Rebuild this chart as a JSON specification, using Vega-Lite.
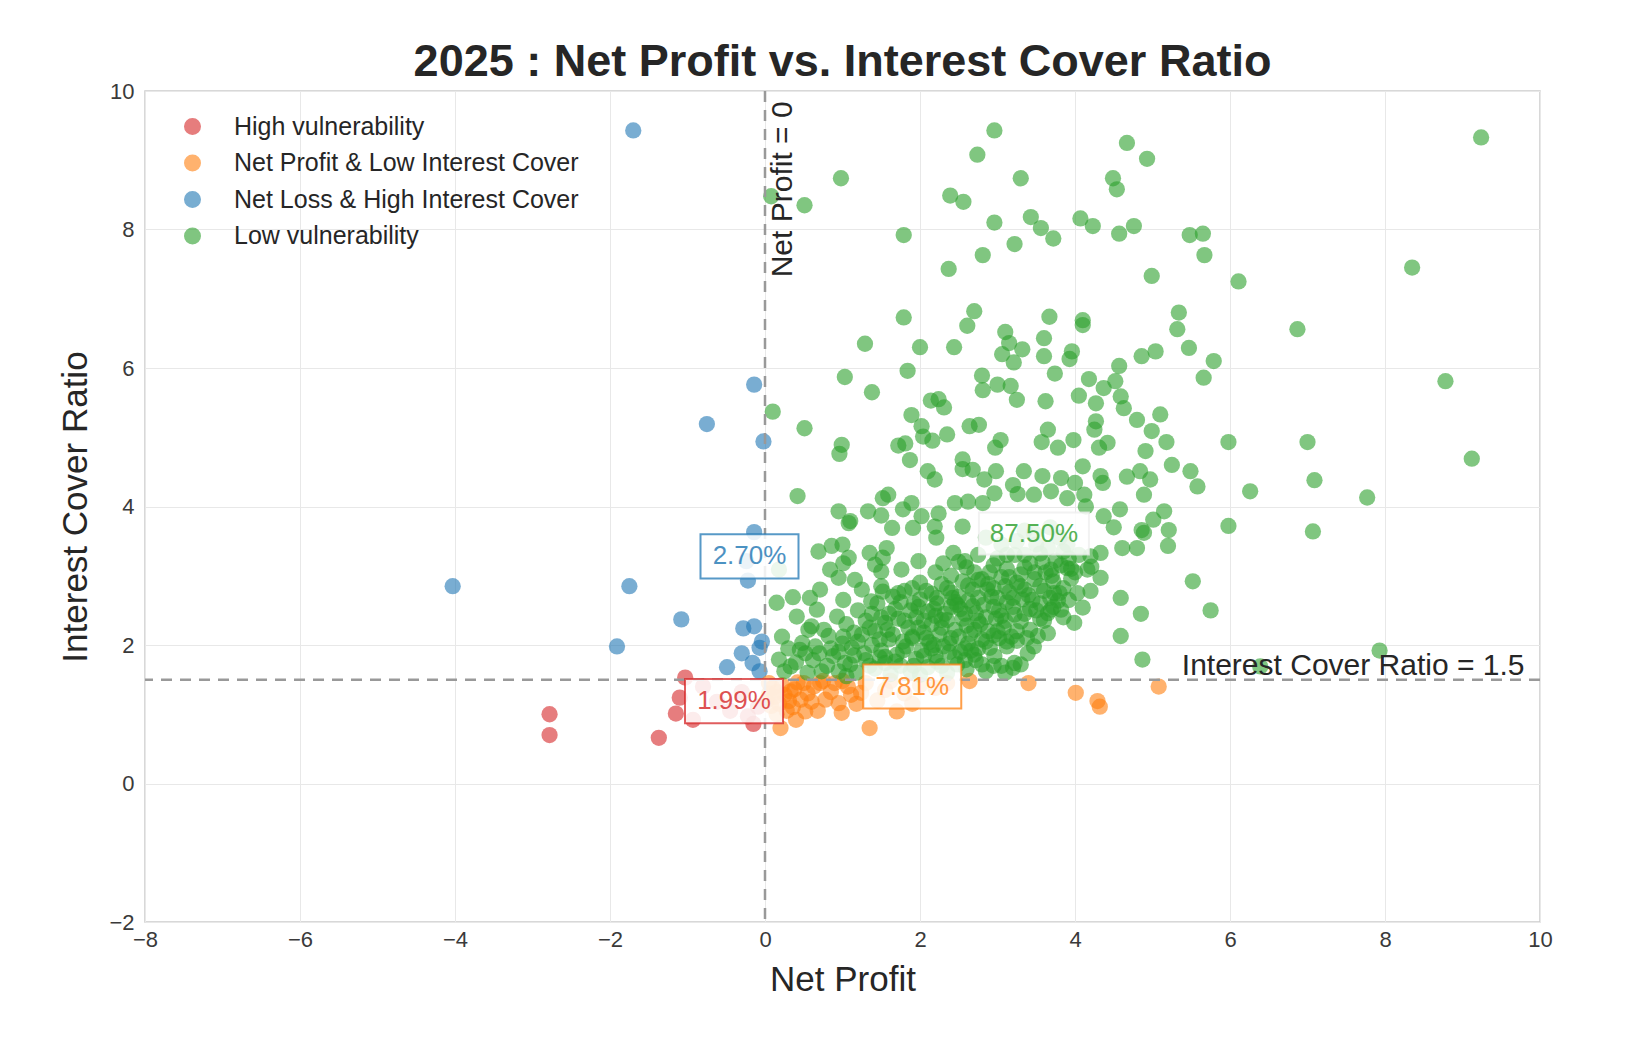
{
  "$schema": "https://vega.github.io/schema/vega-lite/v6.json",
  "width": 1395,
  "height": 831,
  "autosize": {"type": "none"},
  "padding": {"left": 145, "top": 91, "right": 107, "bottom": 136},
  "background": "white",
  "config": {
    "font": "Liberation Sans",
    "view": {"stroke": "#cccccc", "strokeWidth": 1.5},
    "axis": {
      "grid": true,
      "gridColor": "#e8e8e8",
      "gridWidth": 1,
      "domain": false,
      "ticks": false,
      "format": "d",
      "labelFlush": false,
      "labelFontSize": 22,
      "labelColor": "#3a3a3a",
      "titleFontSize": 35,
      "titleFontWeight": "normal",
      "titleColor": "#262626"
    }
  },
  "title": {
    "text": "2025 : Net Profit vs. Interest Cover Ratio",
    "fontSize": 45,
    "fontWeight": "bold",
    "color": "#262626",
    "anchor": "middle",
    "offset": -5
  },
  "datasets": {
    "points": [
      {"cat": "H", "x": -1.03, "y": 1.53}, {"cat": "H", "x": -1.1, "y": 1.24}, {"cat": "H", "x": -1.15, "y": 1.01},
      {"cat": "H", "x": -0.93, "y": 0.92}, {"cat": "H", "x": -2.78, "y": 1.0}, {"cat": "H", "x": -2.78, "y": 0.7},
      {"cat": "H", "x": -1.37, "y": 0.66}, {"cat": "H", "x": -0.22, "y": 0.97}, {"cat": "H", "x": -0.09, "y": 1.11},
      {"cat": "H", "x": -0.45, "y": 1.05}, {"cat": "H", "x": -0.3, "y": 1.32}, {"cat": "H", "x": -0.62, "y": 1.18},
      {"cat": "H", "x": -0.15, "y": 0.86}, {"cat": "H", "x": -0.8, "y": 1.4},

      {"cat": "B", "x": -4.03, "y": 2.85}, {"cat": "B", "x": -1.75, "y": 2.85}, {"cat": "B", "x": -1.08, "y": 2.37},
      {"cat": "B", "x": -1.91, "y": 1.98}, {"cat": "B", "x": -1.7, "y": 9.43}, {"cat": "B", "x": -0.14, "y": 5.76},
      {"cat": "B", "x": -0.75, "y": 5.19}, {"cat": "B", "x": -0.02, "y": 4.94}, {"cat": "B", "x": -0.14, "y": 3.63},
      {"cat": "B", "x": -0.22, "y": 2.93}, {"cat": "B", "x": -0.28, "y": 2.24}, {"cat": "B", "x": -0.14, "y": 2.27},
      {"cat": "B", "x": -0.07, "y": 1.96}, {"cat": "B", "x": -0.3, "y": 1.88}, {"cat": "B", "x": -0.16, "y": 1.74},
      {"cat": "B", "x": -0.49, "y": 1.68}, {"cat": "B", "x": -0.07, "y": 1.62}, {"cat": "B", "x": -0.24, "y": 3.21},
      {"cat": "B", "x": -0.04, "y": 2.05},

      {"cat": "O", "x": 4.01, "y": 1.31}, {"cat": "O", "x": 4.29, "y": 1.19}, {"cat": "O", "x": 4.32, "y": 1.11},
      {"cat": "O", "x": 5.08, "y": 1.4}, {"cat": "O", "x": 2.64, "y": 1.48}, {"cat": "O", "x": 1.35, "y": 0.8},
      {"cat": "O", "x": 1.7, "y": 1.04}, {"cat": "O", "x": 0.99, "y": 1.02}, {"cat": "O", "x": 0.52, "y": 1.04},
      {"cat": "O", "x": 0.78, "y": 1.21}, {"cat": "O", "x": 0.2, "y": 0.8}, {"cat": "O", "x": 0.33, "y": 1.33},
      {"cat": "O", "x": 0.31, "y": 1.19}, {"cat": "O", "x": 0.63, "y": 1.4}, {"cat": "O", "x": 0.71, "y": 1.45},
      {"cat": "O", "x": 1.07, "y": 1.4}, {"cat": "O", "x": 1.11, "y": 1.28}, {"cat": "O", "x": 0.95, "y": 1.16},
      {"cat": "O", "x": 1.24, "y": 1.31}, {"cat": "O", "x": 0.46, "y": 1.21}, {"cat": "O", "x": 0.05, "y": 1.45},
      {"cat": "O", "x": 0.1, "y": 1.38}, {"cat": "O", "x": 0.12, "y": 1.25}, {"cat": "O", "x": 0.15, "y": 1.32},
      {"cat": "O", "x": 0.18, "y": 1.15}, {"cat": "O", "x": 0.22, "y": 1.42}, {"cat": "O", "x": 0.25, "y": 1.28},
      {"cat": "O", "x": 0.08, "y": 1.12}, {"cat": "O", "x": 0.28, "y": 1.05}, {"cat": "O", "x": 0.38, "y": 1.36},
      {"cat": "O", "x": 0.42, "y": 1.46}, {"cat": "O", "x": 0.36, "y": 1.1}, {"cat": "O", "x": 0.55, "y": 1.3},
      {"cat": "O", "x": 0.6, "y": 1.18}, {"cat": "O", "x": 0.68, "y": 1.05}, {"cat": "O", "x": 0.85, "y": 1.32},
      {"cat": "O", "x": 0.9, "y": 1.45}, {"cat": "O", "x": 1.18, "y": 1.15}, {"cat": "O", "x": 1.3, "y": 1.45},
      {"cat": "O", "x": 1.45, "y": 1.2}, {"cat": "O", "x": 1.55, "y": 1.35}, {"cat": "O", "x": 1.62, "y": 1.48},
      {"cat": "O", "x": 1.8, "y": 1.3}, {"cat": "O", "x": 2.0, "y": 1.42}, {"cat": "O", "x": 2.2, "y": 1.38},
      {"cat": "O", "x": 2.35, "y": 1.45}, {"cat": "O", "x": 1.9, "y": 1.15}, {"cat": "O", "x": 0.15, "y": 1.0},
      {"cat": "O", "x": 0.4, "y": 0.92}, {"cat": "O", "x": 0.05, "y": 1.3}, {"cat": "O", "x": 0.02, "y": 1.2},
      {"cat": "O", "x": 0.5, "y": 1.45}, {"cat": "O", "x": 0.75, "y": 1.48}, {"cat": "O", "x": 1.0, "y": 1.48},
      {"cat": "O", "x": 3.4, "y": 1.45},

      {"cat": "L", "x": 2.96, "y": 9.43}, {"cat": "L", "x": 0.98, "y": 8.74}, {"cat": "L", "x": 0.08, "y": 8.48},
      {"cat": "L", "x": 0.51, "y": 8.35}, {"cat": "L", "x": 2.74, "y": 9.08}, {"cat": "L", "x": 3.3, "y": 8.74},
      {"cat": "L", "x": 2.39, "y": 8.49}, {"cat": "L", "x": 2.56, "y": 8.4}, {"cat": "L", "x": 4.67, "y": 9.25},
      {"cat": "L", "x": 4.93, "y": 9.02}, {"cat": "L", "x": 4.49, "y": 8.74}, {"cat": "L", "x": 4.54, "y": 8.58},
      {"cat": "L", "x": 2.96, "y": 8.1}, {"cat": "L", "x": 3.43, "y": 8.18}, {"cat": "L", "x": 3.56, "y": 8.02},
      {"cat": "L", "x": 3.72, "y": 7.87}, {"cat": "L", "x": 4.07, "y": 8.16}, {"cat": "L", "x": 4.23, "y": 8.05},
      {"cat": "L", "x": 4.57, "y": 7.94}, {"cat": "L", "x": 4.76, "y": 8.05}, {"cat": "L", "x": 5.48, "y": 7.92},
      {"cat": "L", "x": 5.65, "y": 7.94}, {"cat": "L", "x": 5.67, "y": 7.63}, {"cat": "L", "x": 1.79, "y": 7.92},
      {"cat": "L", "x": 3.22, "y": 7.79}, {"cat": "L", "x": 2.81, "y": 7.63}, {"cat": "L", "x": 2.37, "y": 7.43},
      {"cat": "L", "x": 4.99, "y": 7.33}, {"cat": "L", "x": 6.11, "y": 7.25}, {"cat": "L", "x": 8.35, "y": 7.45},
      {"cat": "L", "x": 9.24, "y": 9.33}, {"cat": "L", "x": 1.79, "y": 6.73}, {"cat": "L", "x": 2.7, "y": 6.82},
      {"cat": "L", "x": 2.61, "y": 6.61}, {"cat": "L", "x": 3.67, "y": 6.74}, {"cat": "L", "x": 4.1, "y": 6.69},
      {"cat": "L", "x": 4.1, "y": 6.62}, {"cat": "L", "x": 5.34, "y": 6.8}, {"cat": "L", "x": 5.32, "y": 6.56},
      {"cat": "L", "x": 6.87, "y": 6.56}, {"cat": "L", "x": 1.29, "y": 6.35}, {"cat": "L", "x": 2.0, "y": 6.3},
      {"cat": "L", "x": 2.44, "y": 6.3}, {"cat": "L", "x": 3.1, "y": 6.52}, {"cat": "L", "x": 3.15, "y": 6.36},
      {"cat": "L", "x": 3.32, "y": 6.27}, {"cat": "L", "x": 3.06, "y": 6.2}, {"cat": "L", "x": 3.6, "y": 6.43},
      {"cat": "L", "x": 3.6, "y": 6.17}, {"cat": "L", "x": 3.21, "y": 6.08}, {"cat": "L", "x": 3.96, "y": 6.24},
      {"cat": "L", "x": 3.93, "y": 6.13}, {"cat": "L", "x": 4.86, "y": 6.17}, {"cat": "L", "x": 5.04, "y": 6.24},
      {"cat": "L", "x": 5.47, "y": 6.29}, {"cat": "L", "x": 5.79, "y": 6.1}, {"cat": "L", "x": 4.57, "y": 6.03},

      {"cat": "L", "x": 0.1, "y": 5.37}, {"cat": "L", "x": 0.51, "y": 5.13}, {"cat": "L", "x": 1.03, "y": 5.87},
      {"cat": "L", "x": 1.38, "y": 5.65}, {"cat": "L", "x": 0.99, "y": 4.89}, {"cat": "L", "x": 0.96, "y": 4.76},
      {"cat": "L", "x": 0.42, "y": 4.15}, {"cat": "L", "x": 1.84, "y": 5.96}, {"cat": "L", "x": 1.89, "y": 5.32},
      {"cat": "L", "x": 2.14, "y": 5.53}, {"cat": "L", "x": 2.24, "y": 5.55}, {"cat": "L", "x": 2.31, "y": 5.43},
      {"cat": "L", "x": 2.02, "y": 5.16}, {"cat": "L", "x": 2.04, "y": 5.01}, {"cat": "L", "x": 2.16, "y": 4.95},
      {"cat": "L", "x": 2.35, "y": 5.04}, {"cat": "L", "x": 1.72, "y": 4.88}, {"cat": "L", "x": 1.81, "y": 4.91},
      {"cat": "L", "x": 1.87, "y": 4.67}, {"cat": "L", "x": 2.1, "y": 4.51}, {"cat": "L", "x": 2.19, "y": 4.39},
      {"cat": "L", "x": 2.64, "y": 5.16}, {"cat": "L", "x": 2.76, "y": 5.18}, {"cat": "L", "x": 2.55, "y": 4.68},
      {"cat": "L", "x": 2.55, "y": 4.54}, {"cat": "L", "x": 2.68, "y": 4.53}, {"cat": "L", "x": 2.8, "y": 5.89},
      {"cat": "L", "x": 2.81, "y": 5.68}, {"cat": "L", "x": 3.0, "y": 5.76}, {"cat": "L", "x": 3.17, "y": 5.74},
      {"cat": "L", "x": 3.25, "y": 5.54}, {"cat": "L", "x": 3.62, "y": 5.52}, {"cat": "L", "x": 3.74, "y": 5.92},
      {"cat": "L", "x": 3.65, "y": 5.11}, {"cat": "L", "x": 3.57, "y": 4.93}, {"cat": "L", "x": 3.78, "y": 4.85},
      {"cat": "L", "x": 3.98, "y": 4.96}, {"cat": "L", "x": 4.05, "y": 5.6}, {"cat": "L", "x": 4.18, "y": 5.84},
      {"cat": "L", "x": 2.97, "y": 4.85}, {"cat": "L", "x": 3.04, "y": 4.96}, {"cat": "L", "x": 1.59, "y": 4.17},
      {"cat": "L", "x": 1.52, "y": 4.12}, {"cat": "L", "x": 0.95, "y": 3.93}, {"cat": "L", "x": 1.33, "y": 3.93},
      {"cat": "L", "x": 1.5, "y": 3.87}, {"cat": "L", "x": 1.78, "y": 3.96}, {"cat": "L", "x": 1.89, "y": 4.05},
      {"cat": "L", "x": 2.02, "y": 3.86}, {"cat": "L", "x": 2.24, "y": 3.9}, {"cat": "L", "x": 2.45, "y": 4.05},
      {"cat": "L", "x": 2.62, "y": 4.07}, {"cat": "L", "x": 2.83, "y": 4.39}, {"cat": "L", "x": 2.98, "y": 4.51},
      {"cat": "L", "x": 3.2, "y": 4.31}, {"cat": "L", "x": 3.34, "y": 4.51}, {"cat": "L", "x": 3.58, "y": 4.44},
      {"cat": "L", "x": 3.82, "y": 4.41}, {"cat": "L", "x": 4.0, "y": 4.34}, {"cat": "L", "x": 4.1, "y": 4.58},
      {"cat": "L", "x": 2.96, "y": 4.19}, {"cat": "L", "x": 3.26, "y": 4.18}, {"cat": "L", "x": 3.47, "y": 4.17},
      {"cat": "L", "x": 3.69, "y": 4.22}, {"cat": "L", "x": 3.9, "y": 4.12}, {"cat": "L", "x": 1.08, "y": 3.76},
      {"cat": "L", "x": 2.81, "y": 4.05},

      {"cat": "L", "x": 5.66, "y": 5.86}, {"cat": "L", "x": 8.78, "y": 5.81}, {"cat": "L", "x": 5.98, "y": 4.93},
      {"cat": "L", "x": 7.0, "y": 4.93}, {"cat": "L", "x": 9.12, "y": 4.69}, {"cat": "L", "x": 7.09, "y": 4.38},
      {"cat": "L", "x": 6.26, "y": 4.22}, {"cat": "L", "x": 7.77, "y": 4.13}, {"cat": "L", "x": 5.98, "y": 3.72},
      {"cat": "L", "x": 7.07, "y": 3.64}, {"cat": "L", "x": 5.1, "y": 5.33}, {"cat": "L", "x": 4.8, "y": 5.25},
      {"cat": "L", "x": 4.99, "y": 5.09}, {"cat": "L", "x": 5.18, "y": 4.93}, {"cat": "L", "x": 4.91, "y": 4.8},
      {"cat": "L", "x": 5.25, "y": 4.6}, {"cat": "L", "x": 5.49, "y": 4.51}, {"cat": "L", "x": 5.58, "y": 4.29},
      {"cat": "L", "x": 4.84, "y": 4.51}, {"cat": "L", "x": 4.97, "y": 4.39}, {"cat": "L", "x": 4.67, "y": 4.43},
      {"cat": "L", "x": 4.89, "y": 4.17}, {"cat": "L", "x": 5.15, "y": 3.93}, {"cat": "L", "x": 5.01, "y": 3.81},
      {"cat": "L", "x": 4.58, "y": 3.96}, {"cat": "L", "x": 4.52, "y": 5.81}, {"cat": "L", "x": 4.37, "y": 5.71},
      {"cat": "L", "x": 4.27, "y": 5.49}, {"cat": "L", "x": 4.59, "y": 5.59}, {"cat": "L", "x": 4.63, "y": 5.42},
      {"cat": "L", "x": 4.27, "y": 5.23}, {"cat": "L", "x": 4.25, "y": 5.11}, {"cat": "L", "x": 4.42, "y": 4.92},
      {"cat": "L", "x": 4.31, "y": 4.85}, {"cat": "L", "x": 4.33, "y": 4.44}, {"cat": "L", "x": 4.36, "y": 4.34},
      {"cat": "L", "x": 4.12, "y": 4.17}, {"cat": "L", "x": 4.14, "y": 4.0}, {"cat": "L", "x": 4.37, "y": 3.86},
      {"cat": "L", "x": 4.5, "y": 3.7}, {"cat": "L", "x": 4.86, "y": 3.66}, {"cat": "L", "x": 5.21, "y": 3.66},

      {"cat": "L", "x": 5.52, "y": 2.92}, {"cat": "L", "x": 5.75, "y": 2.5}, {"cat": "L", "x": 4.59, "y": 2.68},
      {"cat": "L", "x": 4.85, "y": 2.45}, {"cat": "L", "x": 4.59, "y": 2.13}, {"cat": "L", "x": 4.87, "y": 1.79},
      {"cat": "L", "x": 7.93, "y": 1.92}, {"cat": "L", "x": 6.39, "y": 1.69}, {"cat": "L", "x": 5.2, "y": 3.43},
      {"cat": "L", "x": 4.8, "y": 3.4}, {"cat": "L", "x": 4.61, "y": 3.4}, {"cat": "L", "x": 4.33, "y": 3.33},
      {"cat": "L", "x": 4.2, "y": 3.28}, {"cat": "L", "x": 4.33, "y": 2.97}, {"cat": "L", "x": 4.16, "y": 3.09},
      {"cat": "L", "x": 4.2, "y": 2.78}, {"cat": "L", "x": 4.1, "y": 2.54}, {"cat": "L", "x": 4.89, "y": 3.62},

      {"cat": "L", "x": 0.18, "y": 3.09}, {"cat": "L", "x": 0.15, "y": 2.61}, {"cat": "L", "x": 0.36, "y": 2.69},
      {"cat": "L", "x": 0.22, "y": 2.12}, {"cat": "L", "x": 0.18, "y": 1.79}, {"cat": "L", "x": 0.41, "y": 2.41},
      {"cat": "L", "x": 0.48, "y": 2.03}, {"cat": "L", "x": 0.33, "y": 1.69}, {"cat": "L", "x": 0.69, "y": 3.35},
      {"cat": "L", "x": 0.84, "y": 3.09}, {"cat": "L", "x": 0.95, "y": 2.97}, {"cat": "L", "x": 0.71, "y": 2.8},
      {"cat": "L", "x": 0.58, "y": 2.68}, {"cat": "L", "x": 0.67, "y": 2.51}, {"cat": "L", "x": 0.6, "y": 2.27},
      {"cat": "L", "x": 0.76, "y": 2.22}, {"cat": "L", "x": 0.52, "y": 1.88}, {"cat": "L", "x": 0.88, "y": 1.84},
      {"cat": "L", "x": 0.73, "y": 1.62}, {"cat": "L", "x": 1.0, "y": 3.45}, {"cat": "L", "x": 1.08, "y": 3.26},
      {"cat": "L", "x": 1.01, "y": 3.18}, {"cat": "L", "x": 0.93, "y": 2.41}, {"cat": "L", "x": 1.01, "y": 2.65},
      {"cat": "L", "x": 1.01, "y": 2.12}, {"cat": "L", "x": 1.12, "y": 1.96}, {"cat": "L", "x": 1.03, "y": 1.74},
      {"cat": "L", "x": 1.16, "y": 2.94}, {"cat": "L", "x": 1.25, "y": 2.8}, {"cat": "L", "x": 1.35, "y": 3.33},
      {"cat": "L", "x": 1.42, "y": 3.16}, {"cat": "L", "x": 1.52, "y": 3.26}, {"cat": "L", "x": 1.57, "y": 3.4},
      {"cat": "L", "x": 1.5, "y": 3.06}, {"cat": "L", "x": 1.52, "y": 2.77}, {"cat": "L", "x": 1.37, "y": 2.63},
      {"cat": "L", "x": 1.76, "y": 3.09}, {"cat": "L", "x": 1.72, "y": 2.75}, {"cat": "L", "x": 1.98, "y": 3.21},
      {"cat": "L", "x": 1.91, "y": 3.69}, {"cat": "L", "x": 1.64, "y": 3.69}, {"cat": "L", "x": 2.21, "y": 3.55},
      {"cat": "L", "x": 2.3, "y": 3.18}, {"cat": "L", "x": 2.43, "y": 3.33}, {"cat": "L", "x": 2.58, "y": 3.21},
      {"cat": "L", "x": 2.55, "y": 3.71}, {"cat": "L", "x": 2.75, "y": 2.94}, {"cat": "L", "x": 2.87, "y": 2.8},
      {"cat": "L", "x": 1.1, "y": 3.79}, {"cat": "L", "x": 0.86, "y": 3.43}, {"cat": "L", "x": 2.19, "y": 3.71},
      {"cat": "L", "x": 3.99, "y": 2.32}, {"cat": "L", "x": 3.82, "y": 2.51}, {"cat": "L", "x": 3.73, "y": 2.75},
      {"cat": "L", "x": 3.65, "y": 2.17}, {"cat": "L", "x": 3.39, "y": 1.88}, {"cat": "L", "x": 3.22, "y": 1.74},
      {"cat": "L", "x": 2.96, "y": 1.84}, {"cat": "L", "x": 0.56, "y": 2.22}, {"cat": "L", "x": 0.82, "y": 2.13},
      {"cat": "L", "x": 0.45, "y": 1.93}, {"cat": "L", "x": 3.2, "y": 1.67}, {"cat": "L", "x": 3.3, "y": 1.72},
      {"cat": "L", "x": 3.05, "y": 1.7}, {"cat": "L", "x": 3.47, "y": 3.62}, {"cat": "L", "x": 3.69, "y": 3.09},
      {"cat": "L", "x": 3.9, "y": 3.11}, {"cat": "L", "x": 3.52, "y": 2.13}, {"cat": "L", "x": 3.69, "y": 2.51},
      {"cat": "L", "x": 3.47, "y": 1.98}, {"cat": "L", "x": 4.03, "y": 2.75}, {"cat": "L", "x": 4.21, "y": 3.13},

      {"cat": "L", "x": 0.25, "y": 1.62}, {"cat": "L", "x": 0.4, "y": 1.75}, {"cat": "L", "x": 0.55, "y": 1.6},
      {"cat": "L", "x": 0.62, "y": 1.78}, {"cat": "L", "x": 0.8, "y": 1.7}, {"cat": "L", "x": 0.95, "y": 1.62},
      {"cat": "L", "x": 1.1, "y": 1.72}, {"cat": "L", "x": 1.18, "y": 1.6}, {"cat": "L", "x": 1.3, "y": 1.78},
      {"cat": "L", "x": 1.42, "y": 1.66}, {"cat": "L", "x": 1.55, "y": 1.74}, {"cat": "L", "x": 1.62, "y": 1.58},
      {"cat": "L", "x": 1.75, "y": 1.7}, {"cat": "L", "x": 1.88, "y": 1.62}, {"cat": "L", "x": 1.95, "y": 1.8},
      {"cat": "L", "x": 2.1, "y": 1.68}, {"cat": "L", "x": 2.22, "y": 1.76}, {"cat": "L", "x": 2.35, "y": 1.6},
      {"cat": "L", "x": 2.48, "y": 1.72}, {"cat": "L", "x": 2.6, "y": 1.65}, {"cat": "L", "x": 2.72, "y": 1.78},
      {"cat": "L", "x": 2.85, "y": 1.62}, {"cat": "L", "x": 3.1, "y": 1.6}, {"cat": "L", "x": 1.05, "y": 1.55},
      {"cat": "L", "x": 2.0, "y": 1.57},
      {"cat": "L", "x": 0.3, "y": 1.95}, {"cat": "L", "x": 0.65, "y": 1.98}, {"cat": "L", "x": 0.95, "y": 1.9},
      {"cat": "L", "x": 1.2, "y": 2.05}, {"cat": "L", "x": 1.28, "y": 1.88}, {"cat": "L", "x": 1.38, "y": 2.0},
      {"cat": "L", "x": 1.5, "y": 1.92}, {"cat": "L", "x": 1.6, "y": 2.08}, {"cat": "L", "x": 1.7, "y": 1.86},
      {"cat": "L", "x": 1.82, "y": 1.98}, {"cat": "L", "x": 1.9, "y": 2.1}, {"cat": "L", "x": 2.02, "y": 1.92},
      {"cat": "L", "x": 2.12, "y": 2.04}, {"cat": "L", "x": 2.2, "y": 1.85}, {"cat": "L", "x": 2.3, "y": 1.98},
      {"cat": "L", "x": 2.4, "y": 2.1}, {"cat": "L", "x": 2.52, "y": 1.9}, {"cat": "L", "x": 2.62, "y": 2.02},
      {"cat": "L", "x": 2.7, "y": 1.86}, {"cat": "L", "x": 2.8, "y": 2.08}, {"cat": "L", "x": 2.9, "y": 1.96},
      {"cat": "L", "x": 3.02, "y": 2.1}, {"cat": "L", "x": 3.12, "y": 1.98}, {"cat": "L", "x": 3.25, "y": 2.06},
      {"cat": "L", "x": 1.55, "y": 1.83}, {"cat": "L", "x": 2.45, "y": 1.82}, {"cat": "L", "x": 1.0, "y": 2.02},
      {"cat": "L", "x": 2.75, "y": 1.95},
      {"cat": "L", "x": 1.05, "y": 2.3}, {"cat": "L", "x": 1.15, "y": 2.18}, {"cat": "L", "x": 1.3, "y": 2.35},
      {"cat": "L", "x": 1.42, "y": 2.2}, {"cat": "L", "x": 1.55, "y": 2.32}, {"cat": "L", "x": 1.65, "y": 2.15},
      {"cat": "L", "x": 1.72, "y": 2.38}, {"cat": "L", "x": 1.85, "y": 2.25}, {"cat": "L", "x": 1.95, "y": 2.4},
      {"cat": "L", "x": 2.05, "y": 2.18}, {"cat": "L", "x": 2.15, "y": 2.3}, {"cat": "L", "x": 2.25, "y": 2.15},
      {"cat": "L", "x": 2.35, "y": 2.36}, {"cat": "L", "x": 2.45, "y": 2.22}, {"cat": "L", "x": 2.55, "y": 2.38},
      {"cat": "L", "x": 2.65, "y": 2.16}, {"cat": "L", "x": 2.78, "y": 2.3}, {"cat": "L", "x": 2.88, "y": 2.2},
      {"cat": "L", "x": 2.98, "y": 2.38}, {"cat": "L", "x": 3.08, "y": 2.25}, {"cat": "L", "x": 3.18, "y": 2.12},
      {"cat": "L", "x": 3.3, "y": 2.34}, {"cat": "L", "x": 3.42, "y": 2.22}, {"cat": "L", "x": 3.55, "y": 2.38},
      {"cat": "L", "x": 1.9, "y": 2.12}, {"cat": "L", "x": 2.6, "y": 2.28}, {"cat": "L", "x": 2.2, "y": 2.42},
      {"cat": "L", "x": 2.95, "y": 2.14},
      {"cat": "L", "x": 1.2, "y": 2.5}, {"cat": "L", "x": 1.45, "y": 2.6}, {"cat": "L", "x": 1.6, "y": 2.45},
      {"cat": "L", "x": 1.75, "y": 2.62}, {"cat": "L", "x": 1.88, "y": 2.5}, {"cat": "L", "x": 2.0, "y": 2.66},
      {"cat": "L", "x": 2.1, "y": 2.48}, {"cat": "L", "x": 2.22, "y": 2.6}, {"cat": "L", "x": 2.32, "y": 2.45},
      {"cat": "L", "x": 2.42, "y": 2.68}, {"cat": "L", "x": 2.52, "y": 2.52}, {"cat": "L", "x": 2.62, "y": 2.64},
      {"cat": "L", "x": 2.72, "y": 2.46}, {"cat": "L", "x": 2.82, "y": 2.58}, {"cat": "L", "x": 2.92, "y": 2.7},
      {"cat": "L", "x": 3.02, "y": 2.5}, {"cat": "L", "x": 3.12, "y": 2.62}, {"cat": "L", "x": 3.22, "y": 2.44},
      {"cat": "L", "x": 3.32, "y": 2.66}, {"cat": "L", "x": 3.42, "y": 2.52}, {"cat": "L", "x": 3.55, "y": 2.6},
      {"cat": "L", "x": 3.65, "y": 2.46}, {"cat": "L", "x": 3.78, "y": 2.64}, {"cat": "L", "x": 2.48, "y": 2.58},
      {"cat": "L", "x": 3.05, "y": 2.42}, {"cat": "L", "x": 1.98, "y": 2.55},
      {"cat": "L", "x": 1.5, "y": 2.85}, {"cat": "L", "x": 1.8, "y": 2.78}, {"cat": "L", "x": 2.0, "y": 2.9},
      {"cat": "L", "x": 2.15, "y": 2.74}, {"cat": "L", "x": 2.28, "y": 2.88}, {"cat": "L", "x": 2.4, "y": 2.76},
      {"cat": "L", "x": 2.55, "y": 2.92}, {"cat": "L", "x": 2.68, "y": 2.8}, {"cat": "L", "x": 2.8, "y": 2.95},
      {"cat": "L", "x": 2.95, "y": 2.82}, {"cat": "L", "x": 3.05, "y": 2.98}, {"cat": "L", "x": 3.15, "y": 2.76},
      {"cat": "L", "x": 3.25, "y": 2.9}, {"cat": "L", "x": 3.35, "y": 2.8}, {"cat": "L", "x": 3.48, "y": 2.95},
      {"cat": "L", "x": 3.6, "y": 2.78}, {"cat": "L", "x": 3.72, "y": 2.92}, {"cat": "L", "x": 3.85, "y": 2.82},
      {"cat": "L", "x": 3.95, "y": 2.96}, {"cat": "L", "x": 3.4, "y": 2.72},
      {"cat": "L", "x": 2.2, "y": 3.05}, {"cat": "L", "x": 2.6, "y": 3.12}, {"cat": "L", "x": 2.9, "y": 3.05},
      {"cat": "L", "x": 3.0, "y": 3.25}, {"cat": "L", "x": 3.12, "y": 3.1}, {"cat": "L", "x": 3.22, "y": 3.3},
      {"cat": "L", "x": 3.3, "y": 3.02}, {"cat": "L", "x": 3.42, "y": 3.18}, {"cat": "L", "x": 3.55, "y": 3.32},
      {"cat": "L", "x": 3.62, "y": 3.05}, {"cat": "L", "x": 3.75, "y": 3.22}, {"cat": "L", "x": 3.85, "y": 3.35},
      {"cat": "L", "x": 3.95, "y": 3.1}, {"cat": "L", "x": 2.75, "y": 3.3}, {"cat": "L", "x": 3.5, "y": 3.45},
      {"cat": "L", "x": 3.25, "y": 3.5}, {"cat": "L", "x": 3.8, "y": 3.55}, {"cat": "L", "x": 3.05, "y": 3.45},
      {"cat": "L", "x": 2.85, "y": 3.55}, {"cat": "L", "x": 4.05, "y": 3.3}, {"cat": "L", "x": 3.68, "y": 3.7},
      {"cat": "L", "x": 3.35, "y": 3.65},

      {"cat": "L", "x": 1.35, "y": 1.7}, {"cat": "L", "x": 1.48, "y": 1.82}, {"cat": "L", "x": 1.68, "y": 1.76},
      {"cat": "L", "x": 1.78, "y": 1.92}, {"cat": "L", "x": 1.92, "y": 1.7}, {"cat": "L", "x": 2.05, "y": 1.84},
      {"cat": "L", "x": 2.15, "y": 1.95}, {"cat": "L", "x": 2.28, "y": 1.7}, {"cat": "L", "x": 2.38, "y": 1.9},
      {"cat": "L", "x": 2.58, "y": 1.78}, {"cat": "L", "x": 2.66, "y": 1.92}, {"cat": "L", "x": 2.8, "y": 1.72},
      {"cat": "L", "x": 2.95, "y": 1.7}, {"cat": "L", "x": 1.15, "y": 1.85}, {"cat": "L", "x": 0.85, "y": 1.95},
      {"cat": "L", "x": 0.7, "y": 1.88},
      {"cat": "L", "x": 1.25, "y": 2.15}, {"cat": "L", "x": 1.48, "y": 2.08}, {"cat": "L", "x": 1.58, "y": 2.22},
      {"cat": "L", "x": 1.78, "y": 2.05}, {"cat": "L", "x": 1.98, "y": 2.25}, {"cat": "L", "x": 2.08, "y": 2.1},
      {"cat": "L", "x": 2.28, "y": 2.25}, {"cat": "L", "x": 2.38, "y": 2.02}, {"cat": "L", "x": 2.5, "y": 2.12},
      {"cat": "L", "x": 2.7, "y": 2.22}, {"cat": "L", "x": 2.85, "y": 2.05}, {"cat": "L", "x": 3.0, "y": 2.2},
      {"cat": "L", "x": 3.12, "y": 2.05}, {"cat": "L", "x": 3.25, "y": 2.2}, {"cat": "L", "x": 3.38, "y": 2.1},
      {"cat": "L", "x": 1.35, "y": 2.25}, {"cat": "L", "x": 2.18, "y": 2.0}, {"cat": "L", "x": 2.58, "y": 1.95},
      {"cat": "L", "x": 1.38, "y": 2.45}, {"cat": "L", "x": 1.5, "y": 2.4}, {"cat": "L", "x": 1.68, "y": 2.52},
      {"cat": "L", "x": 1.8, "y": 2.35}, {"cat": "L", "x": 1.92, "y": 2.6}, {"cat": "L", "x": 2.05, "y": 2.35},
      {"cat": "L", "x": 2.18, "y": 2.52}, {"cat": "L", "x": 2.28, "y": 2.36}, {"cat": "L", "x": 2.4, "y": 2.55},
      {"cat": "L", "x": 2.58, "y": 2.45}, {"cat": "L", "x": 2.68, "y": 2.56}, {"cat": "L", "x": 2.85, "y": 2.4},
      {"cat": "L", "x": 2.95, "y": 2.55}, {"cat": "L", "x": 3.1, "y": 2.35}, {"cat": "L", "x": 3.2, "y": 2.55},
      {"cat": "L", "x": 3.35, "y": 2.45}, {"cat": "L", "x": 3.5, "y": 2.5}, {"cat": "L", "x": 3.6, "y": 2.35},
      {"cat": "L", "x": 3.72, "y": 2.55}, {"cat": "L", "x": 3.85, "y": 2.4}, {"cat": "L", "x": 2.75, "y": 2.35},
      {"cat": "L", "x": 1.65, "y": 2.7}, {"cat": "L", "x": 1.9, "y": 2.82}, {"cat": "L", "x": 2.08, "y": 2.78},
      {"cat": "L", "x": 2.22, "y": 2.68}, {"cat": "L", "x": 2.35, "y": 2.82}, {"cat": "L", "x": 2.5, "y": 2.7},
      {"cat": "L", "x": 2.62, "y": 2.86}, {"cat": "L", "x": 2.75, "y": 2.68}, {"cat": "L", "x": 2.88, "y": 2.88},
      {"cat": "L", "x": 3.0, "y": 2.68}, {"cat": "L", "x": 3.1, "y": 2.85}, {"cat": "L", "x": 3.2, "y": 2.68},
      {"cat": "L", "x": 3.3, "y": 2.85}, {"cat": "L", "x": 3.45, "y": 2.65}, {"cat": "L", "x": 3.55, "y": 2.85},
      {"cat": "L", "x": 3.68, "y": 2.68}, {"cat": "L", "x": 3.8, "y": 2.75}, {"cat": "L", "x": 3.92, "y": 2.65},
      {"cat": "L", "x": 2.45, "y": 2.62},
      {"cat": "L", "x": 2.4, "y": 3.0}, {"cat": "L", "x": 2.7, "y": 3.05}, {"cat": "L", "x": 2.95, "y": 3.15},
      {"cat": "L", "x": 3.15, "y": 2.98}, {"cat": "L", "x": 3.35, "y": 3.12}, {"cat": "L", "x": 3.48, "y": 3.05},
      {"cat": "L", "x": 3.58, "y": 3.2}, {"cat": "L", "x": 3.7, "y": 3.0}, {"cat": "L", "x": 3.82, "y": 3.15},
      {"cat": "L", "x": 3.92, "y": 3.25}, {"cat": "L", "x": 3.35, "y": 3.3}, {"cat": "L", "x": 3.12, "y": 3.3},
      {"cat": "L", "x": 3.65, "y": 3.4}, {"cat": "L", "x": 3.9, "y": 3.45}, {"cat": "L", "x": 4.0, "y": 3.05},
      {"cat": "L", "x": 2.5, "y": 3.2}
    ],
    "labels": [
      {"cat": "B", "x": -0.2, "y": 3.28, "label": "2.70%"},
      {"cat": "L", "x": 3.47, "y": 3.61, "label": "87.50%"},
      {"cat": "O", "x": 1.9, "y": 1.4, "label": "7.81%"},
      {"cat": "H", "x": -0.4, "y": 1.19, "label": "1.99%"}
    ]
  },
  "layer": [
    {
      "data": {"name": "points"},
      "mark": {"type": "circle", "size": 265, "opacity": 0.6},
      "encoding": {
        "x": {
          "field": "x", "type": "quantitative",
          "scale": {"domain": [-8, 10], "nice": false, "zero": false},
          "axis": {
            "values": [-8, -6, -4, -2, 0, 2, 4, 6, 8, 10],
            "title": "Net Profit",
            "labelPadding": 7,
            "titleX": 697.5, "titleY": 68, "titleBaseline": "alphabetic", "titleAlign": "center"
          }
        },
        "y": {
          "field": "y", "type": "quantitative",
          "scale": {"domain": [-2, 10], "nice": false, "zero": false},
          "axis": {
            "values": [-2, 0, 2, 4, 6, 8, 10],
            "title": "Interest Cover Ratio",
            "labelPadding": 11,
            "titleX": -59, "titleY": 415.5, "titleAngle": 270, "titleBaseline": "alphabetic", "titleAlign": "center"
          }
        },
        "color": {
          "field": "cat", "type": "nominal",
          "scale": {"domain": ["H", "O", "B", "L"], "range": ["#d62728", "#ff7f0e", "#1f77b4", "#2ca02c"]},
          "legend": {
            "title": null,
            "orient": "none",
            "legendX": 35,
            "legendY": 23,
            "padding": 0,
            "labelFontSize": 25,
            "labelColor": "#262626",
            "labelLimit": 0,
            "labelOffset": 29,
            "rowPadding": 10.5,
            "symbolType": "circle",
            "symbolSize": 240,
            "symbolOpacity": 0.6,
            "labelExpr": "datum.label == 'H' ? 'High vulnerability' : datum.label == 'O' ? 'Net Profit & Low Interest Cover' : datum.label == 'B' ? 'Net Loss & High Interest Cover' : 'Low vulnerability'"
          }
        }
      }
    },
    {
      "data": {"values": [{"x": 0}]},
      "mark": {"type": "rule", "color": "#999999", "strokeWidth": 2.5, "strokeDash": [11, 8]},
      "encoding": {"x": {"field": "x", "type": "quantitative"}}
    },
    {
      "data": {"values": [{"y": 1.5}]},
      "mark": {"type": "rule", "color": "#999999", "strokeWidth": 2.5, "strokeDash": [11, 8]},
      "encoding": {"y": {"field": "y", "type": "quantitative"}}
    },
    {
      "data": {"values": [{"x": 0, "y": 9.85, "label": "Net Profit = 0"}]},
      "mark": {"type": "text", "angle": 270, "align": "right", "baseline": "top", "dy": 3, "fontSize": 30, "color": "#262626"},
      "encoding": {
        "x": {"field": "x", "type": "quantitative"},
        "y": {"field": "y", "type": "quantitative"},
        "text": {"field": "label"}
      }
    },
    {
      "data": {"values": [{"x": 9.8, "y": 1.5, "label": "Interest Cover Ratio = 1.5"}]},
      "mark": {"type": "text", "align": "right", "baseline": "alphabetic", "dy": -5, "fontSize": 30, "color": "#262626"},
      "encoding": {
        "x": {"field": "x", "type": "quantitative"},
        "y": {"field": "y", "type": "quantitative"},
        "text": {"field": "label"}
      }
    },
    {
      "data": {"name": "labels"},
      "mark": {"type": "point", "filled": true, "fill": "white", "fillOpacity": 0.85, "strokeWidth": 2, "strokeOpacity": 0.75},
      "encoding": {
        "x": {"field": "x", "type": "quantitative"},
        "y": {"field": "y", "type": "quantitative"},
        "shape": {
          "condition": {"test": "datum.label == '87.50%'", "value": "M-1,-0.38L1,-0.38L1,0.38L-1,0.38Z"},
          "value": "M-1,-0.45L1,-0.45L1,0.45L-1,0.45Z"
        },
        "size": {
          "condition": {"test": "datum.label == '87.50%'", "value": 12100},
          "value": 9604
        },
        "stroke": {
          "condition": {"test": "datum.label == '87.50%'", "value": "#eeeeee"},
          "field": "cat", "type": "nominal",
          "scale": {"domain": ["H", "O", "B", "L"], "range": ["#d62728", "#ff7f0e", "#1f77b4", "#2ca02c"]},
          "legend": null
        }
      }
    },
    {
      "data": {"name": "labels"},
      "mark": {"type": "text", "fontSize": 26, "align": "center", "baseline": "middle", "opacity": 0.8},
      "encoding": {
        "x": {"field": "x", "type": "quantitative"},
        "y": {"field": "y", "type": "quantitative"},
        "text": {"field": "label"},
        "color": {"field": "cat", "type": "nominal", "legend": null}
      }
    }
  ]
}
